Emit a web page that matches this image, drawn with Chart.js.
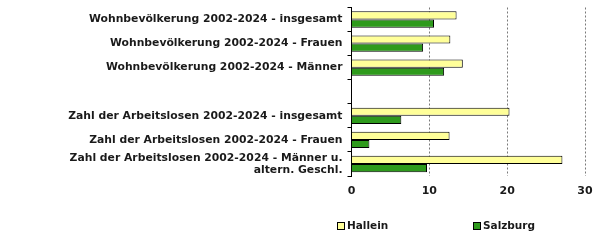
<!DOCTYPE html>
<html>
<head>
<meta charset="utf-8">
<script src="https://cdn.jsdelivr.net/npm/chart.js@4"></script>
<style>
  html, body { margin: 0; padding: 0; background: #fff; }
  #wrap { position: relative; width: 605px; height: 244px; }
  .legend-item { position: absolute; top: 218px; font: bold 10.5px "DejaVu Sans", sans-serif; color: #1a1a1a; white-space: nowrap; line-height: 14px; }
  .legend-item i { display: inline-block; width: 6px; height: 6px; border: 1px solid #000; margin-right: 2px; vertical-align: -0.5px; }
</style>
</head>
<body>
<div id="wrap">
  <canvas id="chart" width="605" height="244"></canvas>
  <div class="legend-item" id="leg0" style="left:337px"></div>
  <div class="legend-item" id="leg1" style="left:473px"></div>
</div>
<script>
// categories (empty slot separates the two groups)
const categories = [
  'Wohnbevölkerung 2002-2024 - insgesamt',
  'Wohnbevölkerung 2002-2024 - Frauen',
  'Wohnbevölkerung 2002-2024 - Männer',
  '',
  'Zahl der Arbeitslosen 2002-2024 - insgesamt',
  'Zahl der Arbeitslosen 2002-2024 - Frauen',
  ['Zahl der Arbeitslosen 2002-2024 - Männer u.', 'altern. Geschl.']
];
const seriesNames = ['Hallein', 'Salzburg'];
const hallein = [13.5, 12.7, 14.3, null, 20.3, 12.6, 27.1];
const salzburg = [10.6, 9.2, 11.9, null, 6.4, 2.3, 9.7];
const xTicks = [0, 10, 20, 30];

const colors = ['#ffff99', '#2e9a1c'];
const textColor = '#1a1a1a';

const ctx = document.getElementById('chart');
new Chart(ctx, {
  type: 'bar',
  data: {
    labels: categories,
    datasets: [
      { label: seriesNames[0], data: hallein, backgroundColor: colors[0], borderColor: '#000', borderWidth: 1 },
      { label: seriesNames[1], data: salzburg, backgroundColor: colors[1], borderColor: '#000', borderWidth: 1 }
    ]
  },
  options: {
    indexAxis: 'y',
    responsive: false,
    animation: false,
    datasets: { bar: { categoryPercentage: 0.68, barPercentage: 1 } },
    layout: { padding: { top: 7.5, right: 20, left: 0, bottom: 0 } },
    plugins: { legend: { display: false }, tooltip: { enabled: false } },
    scales: {
      x: {
        min: 0, max: 30,
        afterBuildTicks: s => { s.ticks = xTicks.map(v => ({ value: v })); },
        afterFit: s => { s.height = 68; s.paddingLeft = 0; s.paddingRight = 0; },
        grid: {
          drawTicks: false,
          color: c => (c.tick && c.tick.value === 0) ? 'rgba(0,0,0,0)' : '#7a7a7a',
          lineWidth: 1
        },
        border: { display: false, dash: [2, 2] },
        ticks: { padding: 9, color: textColor, font: { family: 'DejaVu Sans', size: 11, weight: 'bold' } }
      },
      y: {
        afterFit: s => { s.width = 351.5; s.paddingTop = 0; s.paddingBottom = 0; },
        border: { display: true, color: '#000', width: 1 },
        grid: { offset: true, drawOnChartArea: false, drawTicks: true, tickLength: 4, color: '#000' },
        ticks: {
          padding: 5, color: textColor, autoSkip: false,
          font: { family: 'DejaVu Sans', size: 10.8, weight: 'bold', lineHeight: 1.1 }
        }
      }
    }
  }
});

// legend as text next to coloured boxes
seriesNames.forEach((name, i) => {
  const el = document.getElementById('leg' + i);
  const box = document.createElement('i');
  box.style.background = colors[i];
  el.appendChild(box);
  el.appendChild(document.createTextNode(name));
});
</script>
</body>
</html>
